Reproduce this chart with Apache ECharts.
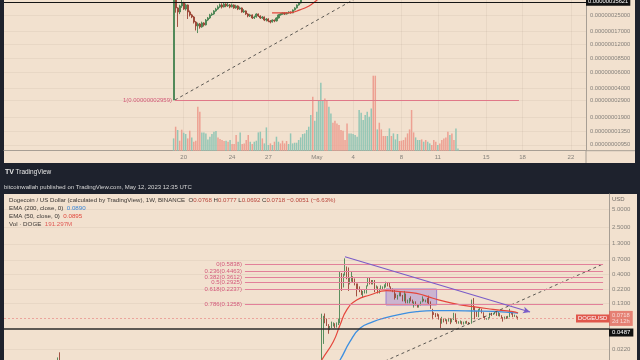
<!DOCTYPE html>
<html><head><meta charset="utf-8">
<script src="https://cdn.jsdelivr.net/npm/echarts@6/dist/echarts.min.js"></script>
<style>html,body{margin:0;padding:0;background:#1e222d;}#c{width:640px;height:360px;}</style>
</head><body><div id="c"></div><script>
// ---------- TOP PANEL: PEPE / USD, 4h candles (prices in units of 1e-7 USD) ----------
const topUnit = 1e-7;
const topStartDay = 19 + 1 / 6;      // day numbering from April (May 1 = 31)
const topBarsPerDay = 6;
// [open, close, low, high]
const topCandles = [
 [0.2959,3.90,0.2959,4.20],[3.90,3.04,2.70,3.95],[3.04,2.75,1.88,3.10],[2.75,3.20,2.60,3.30],
 [3.20,3.45,3.05,3.75],[3.45,2.96,2.90,3.55],[2.96,3.28,2.85,3.40],[3.28,2.75,2.30,3.32],
 [2.75,2.55,2.45,2.85],[2.55,2.42,2.35,2.62],[2.42,2.13,2.05,2.48],[2.13,1.93,1.72,2.18],
 [1.93,2.03,1.61,2.10],[2.03,1.88,1.80,2.08],[1.88,2.08,1.84,2.15],[2.08,1.98,1.90,2.12],
 [1.98,2.24,1.95,2.30],[2.24,2.36,2.18,2.42],[2.36,2.55,2.30,2.62],[2.55,2.61,2.48,2.70],
 [2.61,2.82,2.55,2.88],[2.82,2.96,2.76,3.05],[2.96,3.12,2.90,3.25],[3.12,3.28,3.05,3.40],
 [3.28,3.12,3.00,3.42],[3.12,3.36,3.08,3.50],[3.36,3.20,3.10,3.42],[3.20,3.28,3.12,3.45],
 [3.28,3.12,3.02,3.36],[3.12,3.28,3.08,3.40],[3.28,3.04,2.98,3.33],[3.04,3.20,2.98,3.30],
 [3.20,2.96,2.88,3.25],[2.96,3.04,2.90,3.15],[3.04,2.75,2.70,3.08],[2.75,2.82,2.68,2.95],
 [2.82,2.61,2.55,2.86],[2.61,2.48,2.40,2.66],[2.48,2.55,2.42,2.62],[2.55,2.36,2.30,2.58],
 [2.36,2.42,2.30,2.50],[2.42,2.61,2.38,2.66],[2.61,2.48,2.42,2.64],[2.48,2.36,2.30,2.52],
 [2.36,2.42,2.30,2.48],[2.42,2.24,2.18,2.45],[2.24,2.30,2.16,2.36],[2.30,2.19,2.12,2.34],
 [2.19,2.13,2.06,2.24],[2.13,2.24,2.10,2.28],[2.24,2.19,2.12,2.27],[2.19,2.36,2.16,2.40],
 [2.36,2.55,2.33,2.60],[2.55,2.61,2.50,2.66],[2.61,2.68,2.56,2.72],[2.68,2.61,2.55,2.72],
 [2.61,2.68,2.58,2.74],[2.68,2.75,2.63,2.80],[2.75,2.68,2.63,2.79],[2.68,2.89,2.66,2.93],
 [2.89,3.04,2.85,3.10],[3.04,3.28,3.00,3.33],[3.28,3.45,3.22,3.52],[3.45,3.91,3.40,4.00]
];
const topVolume = [
 12.3,24,20.7,10,21,18,16.7,12.3,20,13.3,9,10,44,39,18.3,18.3,17.3,11.3,14,16.7,
 19,19.7,13.3,11.7,10.7,9.7,10,9,10.7,6.7,6.7,15.7,9,18.3,6.7,7.3,10.7,15.7,9,6.7,
 9,10,18.3,19,12.3,7.3,23.3,5.7,7.3,5.7,9,14,9,7.3,10,7.3,9.7,6.7,17.3,7.3,
 8,8,10.7,13.3,16.7,17.3,20.7,24,35.7,54,30,39,50.7,68,50.7,52.3,50.7,44,37.3,28,
 30,27.3,25.7,20.7,20,10.7,27.3,17.3,17.3,16.7,15.7,14,40.7,38,30.7,35.7,39,34,42.3,75,
 75,21.3,28,21.3,14.7,14.7,14.7,22.3,14.7,17.3,11.3,16.7,9.7,10,10.7,13.3,17.3,21.3,40.7,18.3,
 13.3,10.7,10.7,11.3,9,10.7,9,7.3,5.7,10.7,9,5.7,7.3,10.7,12.3,13.3,19,15.7,17.3,10.7,
 22.3,2.3
];
const topVolumeUp = [
 1,0,1,0,0,1,1,0,0,1,0,0,0,0,1,1,1,1,1,1,1,1,0,0,0,0,1,0,1,0,0,0,1,1,0,0,0,0,1,0,
 1,1,1,1,0,1,1,1,0,1,0,1,1,0,0,0,0,1,1,1,1,1,1,1,1,1,1,1,1,0,1,1,1,1,1,0,0,1,1,0,
 0,0,0,0,0,0,0,1,1,1,1,1,1,1,1,1,1,1,1,0,0,1,0,0,0,0,1,1,0,1,1,1,0,0,0,0,0,0,0,0,
 1,1,1,0,1,0,1,1,0,0,0,1,0,0,0,0,0,1,0,0,1,1
];
const topEma50 = [[27.30,2.69],[28.2,2.68],[29.0,2.72],[29.6,2.90],[30.15,3.10],[30.6,3.36],[31.0,3.70],[31.5,4.30]];
const topTrend = [[19.28,0.2959],[36.0,5.26]];
const topFibValue = 0.2959, topFibFrom = 19.28, topFibTo = 47.71, topFibText = '1(0.00000002959)';
const topLastPrice = 3.5621;
const topTickDays = [20,24,27,31,34,38,41,45,48,52];
const topTickLabels = ['20','24','27','May','4','8','11','15','18','22'];
const topPriceTicks = [2.5,1.7,1.2,0.85,0.6,0.4,0.29,0.19,0.135,0.095];

// ---------- BOTTOM PANEL: DOGE / USD, 1W candles; x = weeks from 2021-05-03 ----------
// [week, open, close, low, high]
const botCandles = [
 [-174,.0090,.0150,.0086,.0160],[-173,.0150,.0110,.0105,.0195],
 [-14,.0085,.0339,.0073,.0870],[-13,.0339,.0780,.0270,.0800],[-12,.0780,.0690,.0600,.0877],
 [-11,.0690,.0570,.0540,.0720],[-10,.0570,.0480,.0400,.0580],[-9,.0480,.0510,.0460,.0540],
 [-8,.0510,.0560,.0500,.0640],[-7,.0560,.0570,.0530,.0620],[-6,.0570,.0530,.0500,.0600],
 [-5,.0530,.0580,.0510,.0620],[-4,.0580,.0620,.0560,.0720],[-3,.0620,.3200,.0600,.4500],
 [-2,.3200,.2500,.2100,.4200],[-1,.2500,.3900,.2400,.4100],[0,.3900,.5000,.3800,.7400],
 [1,.5000,.4700,.3300,.5400],[2,.4700,.3000,.2100,.5200],[3,.3000,.3200,.2700,.3600],
 [4,.3200,.3400,.3000,.4400],[5,.3400,.3200,.2900,.3700],[6,.3200,.2700,.2600,.3400],
 [7,.2700,.2400,.1700,.2800],[8,.2400,.2300,.2200,.2800],[9,.2300,.2100,.2000,.2500],
 [10,.2100,.1900,.1800,.2200],[11,.1900,.2000,.1600,.2100],[12,.2000,.2100,.1900,.2200],
 [13,.2100,.2600,.1900,.2600],[14,.2600,.3200,.2500,.3500],[15,.3200,.3000,.2700,.3500],
 [16,.3000,.2800,.2700,.3200],[17,.2800,.3000,.2700,.3200],[18,.3000,.2400,.2000,.3200],
 [19,.2400,.2400,.2300,.2600],[20,.2400,.2100,.1900,.2500],[21,.2100,.2300,.1900,.2300],
 [22,.2300,.2400,.2200,.2600],[23,.2400,.2400,.2200,.2500],[24,.2400,.2600,.2300,.2700],
 [25,.2600,.2700,.2400,.3000],[26,.2700,.2600,.2500,.2900],[27,.2600,.2400,.2400,.2900],
 [28,.2400,.2200,.2100,.2500],[29,.2200,.2100,.2000,.2300],[30,.2100,.1800,.1500,.2200],
 [31,.1800,.1700,.1600,.1900],[32,.1700,.1700,.1500,.1800],[33,.1700,.1900,.1700,.2000],
 [34,.1900,.1700,.1700,.2000],[35,.1700,.1500,.1400,.1800],[36,.1500,.1800,.1400,.2100],
 [37,.1800,.1400,.1300,.1900],[38,.1400,.1400,.1300,.1500],[39,.1400,.1600,.1300,.1600],
 [40,.1600,.1450,.1400,.1700],[41,.1450,.1300,.1300,.1500],[42,.1300,.1300,.1100,.1400],
 [43,.1300,.1200,.1200,.1400],[44,.1200,.1150,.1100,.1250],[45,.1150,.1200,.1100,.1250],
 [46,.1200,.1350,.1200,.1400],[47,.1350,.1450,.1350,.1700],[48,.1450,.1400,.1400,.1550],
 [49,.1400,.1400,.1350,.1500],[50,.1400,.1350,.1300,.1600],[51,.1350,.1300,.1250,.1750],
 [52,.1300,.1050,.1050,.1400],[53,.1050,.0880,.0700,.1050],[54,.0880,.0850,.0830,.0920],
 [55,.0850,.0810,.0760,.0890],[56,.0810,.0790,.0780,.0880],[57,.0790,.0700,.0690,.0850],
 [58,.0700,.0600,.0500,.0730],[59,.0600,.0680,.0590,.0770],[60,.0680,.0660,.0620,.0720],
 [61,.0660,.0680,.0650,.0720],[62,.0680,.0660,.0580,.0700],[63,.0660,.0690,.0640,.0740],
 [64,.0690,.0660,.0580,.0730],[65,.0660,.0700,.0620,.0720],[66,.0700,.0740,.0680,.0900],
 [67,.0740,.0650,.0630,.0880],[68,.0650,.0620,.0590,.0690],[69,.0620,.0630,.0590,.0650],
 [70,.0630,.0630,.0590,.0670],[71,.0630,.0600,.0570,.0650],[72,.0600,.0610,.0570,.0640],
 [73,.0610,.0630,.0590,.0650],[74,.0630,.0600,.0590,.0660],[75,.0600,.0590,.0570,.0630],
 [76,.0590,.0600,.0580,.0610],[77,.0600,.1300,.0590,.1500],[78,.1300,.1050,.1000,.1590],
 [79,.1050,.0880,.0700,.1150],[80,.0880,.0800,.0770,.0960],[81,.0800,.1030,.0760,.1050],
 [82,.1030,.1040,.0980,.1100],[83,.1040,.0900,.0880,.1050],[84,.0900,.0760,.0740,.0920],
 [85,.0760,.0700,.0690,.0790],[86,.0700,.0700,.0690,.0730],[87,.0700,.0740,.0690,.0760],
 [88,.0740,.0860,.0730,.0900],[89,.0860,.0840,.0800,.0900],[90,.0840,.0880,.0830,.0900],
 [91,.0880,.0920,.0850,.0960],[92,.0920,.0810,.0800,.0960],[93,.0810,.0880,.0790,.0930],
 [94,.0880,.0790,.0780,.0890],[95,.0790,.0740,.0720,.0820],[96,.0740,.0720,.0640,.0760],
 [97,.0720,.0750,.0700,.0780],[98,.0750,.0730,.0710,.0790],[99,.0730,.0780,.0720,.0800],
 [100,.0780,.0900,.0760,.1050],[101,.0900,.0870,.0840,.0950],[102,.0870,.0790,.0760,.0940],
 [103,.0790,.0790,.0770,.0840],[104,.0790,.0768,.0750,.0810],[105,.0768,.0718,.0692,.0777]
];
const botEma50 = [[-24,.006],[-18,.009],[-14.1,.0145],[-7.1,.0294],[-3,.0561],[1,.100],[7.1,.148],[15.2,.179],[25.3,.212],[33.4,.204],[43.5,.191],[53.4,.158],[65.5,.130],[77.7,.114],[89.8,.103],[101.9,.094],[105,.0895]];
const botEma200 = [[-12,.006],[-3,.0145],[3,.0294],[9.1,.0494],[17.2,.0638],[23.2,.0728],[33.4,.0850],[43.5,.0939],[53.6,.0977],[65.7,.0977],[77.9,.0965],[90,.0953],[105,.0890]];
const botPriceTicks = [5,2.5,1.3,0.7,0.4,0.22,0.13,0.022];
const fibRatios = ['0','0.236','0.382','0.5','0.618','0.786'];
const fibPrices = [0.5838,0.4463,0.3612,0.2925,0.2237,0.1258];
const fibFromWeek = -60.7, fibToWeek = 156.6;
const purpleTrend = [[0,0.789],[112.3,0.0929]];
const risingTrend = [[24.3,0.0139],[156.6,0.595]];
const zoneWeeks = [24.9,55.6], zonePrices = [0.226,0.1217];
const supportPrice = 0.0487, lastPrice = 0.0718;

// ---------- chart ----------
const lg = Math.log10;
const upC = '#4a8552', dnC = '#9a4233';
const volUp = '#93c6b5', volDn = '#eda092';
const axisGray = '#a79e94', labelGray = '#85817b', faint = 'rgba(110,90,70,0.07)';
const FF = '"Liberation Sans", Arial, sans-serif';
const beige = '#f2e1cf';

const topX = i => topStartDay + i / topBarsPerDay;
const chart = echarts.init(document.getElementById('c'));
const option = {
  animation: false,
  backgroundColor: '#1e222d',
  textStyle: { fontFamily: FF },
  grid: [
    { left: 4, top: 0, width: 582, height: 150.7 },
    { left: 4, top: 0, width: 582, height: 150.7 },
    { left: 4, top: 194, width: 605, height: 166 }
  ],
  xAxis: [
    { type: 'value', gridIndex: 0, min: 5.149, max: 53.248,
      axisLine: { show: true, onZero: false, lineStyle: { color: axisGray } },
      axisTick: { show: false, customValues: topTickDays },
      axisLabel: { customValues: topTickDays, color: labelGray, fontSize: 6, margin: 4,
        formatter: v => topTickLabels[topTickDays.indexOf(Math.round(v))] },
      splitLine: { show: true, lineStyle: { color: faint } } },
    { type: 'value', gridIndex: 1, min: 5.149, max: 53.248, show: false },
    { type: 'value', gridIndex: 2, min: -206.9, max: 160.2, show: false }
  ],
  yAxis: [
    { type: 'value', gridIndex: 0, position: 'right', min: -8.0872, max: -6.4294,
      axisLine: { show: true, onZero: false, lineStyle: { color: axisGray } },
      axisTick: { show: false, customValues: topPriceTicks.map(v => lg(v * topUnit)) },
      axisLabel: { customValues: topPriceTicks.map(v => lg(v * topUnit)), color: labelGray, fontSize: 5.8, margin: 4,
        formatter: v => Math.pow(10, v).toFixed(11) },
      splitLine: { show: true, lineStyle: { color: faint } } },
    { type: 'value', gridIndex: 1, min: 0, max: 150.7, show: false },
    { type: 'value', gridIndex: 2, position: 'right', min: -1.839, max: 0.951,
      name: 'USD', nameLocation: 'end', nameGap: -5,
      nameTextStyle: { color: '#6f6b66', fontSize: 6, align: 'left', verticalAlign: 'middle', padding: [0, 0, 0, 3] },
      axisLine: { show: true, onZero: false, lineStyle: { color: axisGray } },
      axisTick: { show: false, customValues: botPriceTicks.map(lg) },
      axisLabel: { customValues: botPriceTicks.map(lg), color: labelGray, fontSize: 6, margin: 3,
        formatter: v => Math.pow(10, v).toFixed(4) },
      splitLine: { show: true, lineStyle: { color: faint } } }
  ],
  graphic: [
    { type: 'rect', z: -10, silent: true, shape: { x: 4, y: 0, width: 631, height: 163 }, style: { fill: beige } },
    { type: 'rect', z: -10, silent: true, shape: { x: 4, y: 194, width: 633, height: 166 }, style: { fill: beige } },
    { type: 'line', z: 1, silent: true, shape: { x1: 586, y1: 150.7, x2: 635, y2: 150.7 }, style: { stroke: axisGray } },
    { type: 'line', z: 1, silent: true, shape: { x1: 586, y1: 150.7, x2: 586, y2: 163 }, style: { stroke: axisGray } },
    { type: 'text', z: 10, x: 5, y: 172, style: { text: 'TV', fill: '#e6e6e6', font: 'bold 7px ' + FF, verticalAlign: 'middle' } },
    { type: 'text', z: 10, x: 15.5, y: 172, style: { text: 'TradingView', fill: '#e6e6e6', font: '6.5px ' + FF, verticalAlign: 'middle' } },
    { type: 'text', z: 10, x: 4, y: 187.5, style: { text: 'bitcoinwallah published on TradingView.com, May 12, 2023 12:35 UTC', fill: '#d6d6d6', font: '6px ' + FF, verticalAlign: 'middle' } },
    { type: 'text', z: 10, x: 9, y: 200.5, style: {
        text: '{d|Dogecoin / US Dollar (calculated by TradingView), 1W, BINANCE  O}{r|0.0768}{d| H}{r|0.0777}{d| L}{r|0.0692}{d| C}{r|0.0718}{r| −0.0051 (−6.63%)}',
        verticalAlign: 'middle', font: '6.1px ' + FF,
        rich: { d: { fill: '#3a3633', font: '6.1px ' + FF }, r: { fill: '#b8443a', font: '6.1px ' + FF } } } },
    { type: 'text', z: 10, x: 9, y: 208.7, style: {
        text: '{d|EMA (200, close, 0)  }{b|0.0890}', verticalAlign: 'middle', font: '6.2px ' + FF,
        rich: { d: { fill: '#3a3633', font: '6.2px ' + FF }, b: { fill: '#3a86d6', font: '6.2px ' + FF } } } },
    { type: 'text', z: 10, x: 9, y: 216.7, style: {
        text: '{d|EMA (50, close, 0)  }{r|0.0895}', verticalAlign: 'middle', font: '6.2px ' + FF,
        rich: { d: { fill: '#3a3633', font: '6.2px ' + FF }, r: { fill: '#e0463c', font: '6.2px ' + FF } } } },
    { type: 'text', z: 10, x: 9, y: 224.5, style: {
        text: '{d|Vol · DOGE  }{r|191.297M}', verticalAlign: 'middle', font: '6.2px ' + FF,
        rich: { d: { fill: '#3a3633', font: '6.2px ' + FF }, r: { fill: '#e05a55', font: '6.2px ' + FF } } } }
  ],
  series: [
    { type: 'bar', xAxisIndex: 1, yAxisIndex: 1, barWidth: 1.5, z: 1,
      data: topVolume.map((v, i) => ({ value: [topX(i), v], itemStyle: { color: topVolumeUp[i] ? volUp : volDn } })) },
    { type: 'candlestick', xAxisIndex: 0, yAxisIndex: 0, barWidth: 1.6, clip: true,
      encode: { x: 0, y: [1, 2, 3, 4] },
      itemStyle: { color: upC, color0: dnC, borderColor: upC, borderColor0: dnC, borderWidth: 0.9 },
      data: topCandles.map((c, i) => [topX(i), lg(c[0] * topUnit), lg(c[1] * topUnit), lg(c[2] * topUnit), lg(c[3] * topUnit)]) },
    { type: 'line', xAxisIndex: 0, yAxisIndex: 0, smooth: true, symbol: 'none', clip: true,
      lineStyle: { color: '#e0453b', width: 1.2 },
      data: topEma50.map(p => [p[0], lg(p[1] * topUnit)]) },
    { type: 'line', xAxisIndex: 0, yAxisIndex: 0, symbol: 'none', clip: true,
      lineStyle: { color: '#4a4744', width: 0.9, type: [3, 3] },
      data: topTrend.map(p => [p[0], lg(p[1] * topUnit)]),
      markLine: { symbol: ['none', 'none'], silent: true, animation: false,
        data: [
          [ { coord: [topFibFrom, lg(topFibValue * topUnit)], lineStyle: { color: '#e07888', width: 1, type: 'solid' },
              label: { show: true, position: 'start', formatter: topFibText, color: '#d25a78', fontSize: 6, distance: 3 } },
            { coord: [topFibTo, lg(topFibValue * topUnit)] } ],
          { yAxis: lg(topLastPrice * topUnit), lineStyle: { color: '#151515', width: 1.2, type: 'solid' },
            label: { show: true, position: 'end', formatter: (topLastPrice * topUnit).toFixed(11), color: '#fff',
              backgroundColor: '#111', padding: [1, 2], fontSize: 5.8, distance: 0 } }
        ] } },
    { type: 'candlestick', xAxisIndex: 2, yAxisIndex: 2, barWidth: 1.2, clip: true,
      encode: { x: 0, y: [1, 2, 3, 4] },
      itemStyle: { color: upC, color0: dnC, borderColor: upC, borderColor0: dnC, borderWidth: 0.9 },
      data: botCandles.map(c => [c[0], lg(c[1]), lg(c[2]), lg(c[3]), lg(c[4])]) },
    { type: 'line', xAxisIndex: 2, yAxisIndex: 2, smooth: true, symbol: 'none', clip: true,
      lineStyle: { color: '#3d8fe0', width: 1.3 }, data: botEma200.map(p => [p[0], lg(p[1])]) },
    { type: 'line', xAxisIndex: 2, yAxisIndex: 2, smooth: true, symbol: 'none', clip: true,
      lineStyle: { color: '#e5463c', width: 1.2 }, data: botEma50.map(p => [p[0], lg(p[1])]) },
    { type: 'line', xAxisIndex: 2, yAxisIndex: 2, symbol: 'none', clip: true, z: 3,
      lineStyle: { color: '#4a4744', width: 0.9, type: [3, 3] },
      data: risingTrend.map(p => [p[0], lg(p[1])]),
      markArea: { silent: true, data: [[
        { coord: [zoneWeeks[0], lg(zonePrices[0])] }, { coord: [zoneWeeks[1], lg(zonePrices[1])] } ]],
        itemStyle: { color: 'rgba(150,120,210,0.42)', borderColor: '#9a7fd0', borderWidth: 1 } },
      markLine: { symbol: ['none', 'none'], silent: true, animation: false,
        data: fibPrices.map((v, k) => [
          { coord: [fibFromWeek, lg(v)], lineStyle: { color: '#e2809a', width: 1, type: 'solid' },
            label: { show: true, position: 'start', formatter: fibRatios[k] + '(' + v.toFixed(4) + ')', color: '#d2587a', fontSize: 6, distance: 3 } },
          { coord: [fibToWeek, lg(v)] } ]).concat([
          [ { coord: [purpleTrend[0][0], lg(purpleTrend[0][1])], symbol: 'none', lineStyle: { color: '#7a5cc8', width: 1.1, type: 'solid' }, label: { show: false } },
            { coord: [purpleTrend[1][0], lg(purpleTrend[1][1])], symbol: 'arrow', symbolSize: [5, 7] } ],
          { yAxis: lg(supportPrice), lineStyle: { color: '#2b2b2b', width: 1.5, type: 'solid' },
            label: { show: true, position: 'end', formatter: supportPrice.toFixed(4), color: '#fff', backgroundColor: '#111',
              padding: [1, 3], fontSize: 6, verticalAlign: 'top', distance: 0 } },
          { yAxis: lg(lastPrice), lineStyle: { color: '#e57373', width: 0.8, type: [2, 2], opacity: 0.7 },
            label: { show: true, position: 'end', formatter: lastPrice.toFixed(4) + '\n2d 12h', color: '#fff', backgroundColor: '#e0574c',
              padding: [1, 3], fontSize: 5.8, lineHeight: 6.5, distance: 0 } },
          { yAxis: lg(lastPrice), lineStyle: { color: 'rgba(0,0,0,0)', width: 0 },
            label: { show: true, position: 'end', formatter: 'DOGEUSD', color: '#fff', backgroundColor: '#e0574c',
              padding: [1, 2], fontSize: 5.8, distance: -33 } }
        ]) } }
  ]
};
chart.setOption(option);
</script></body></html>
